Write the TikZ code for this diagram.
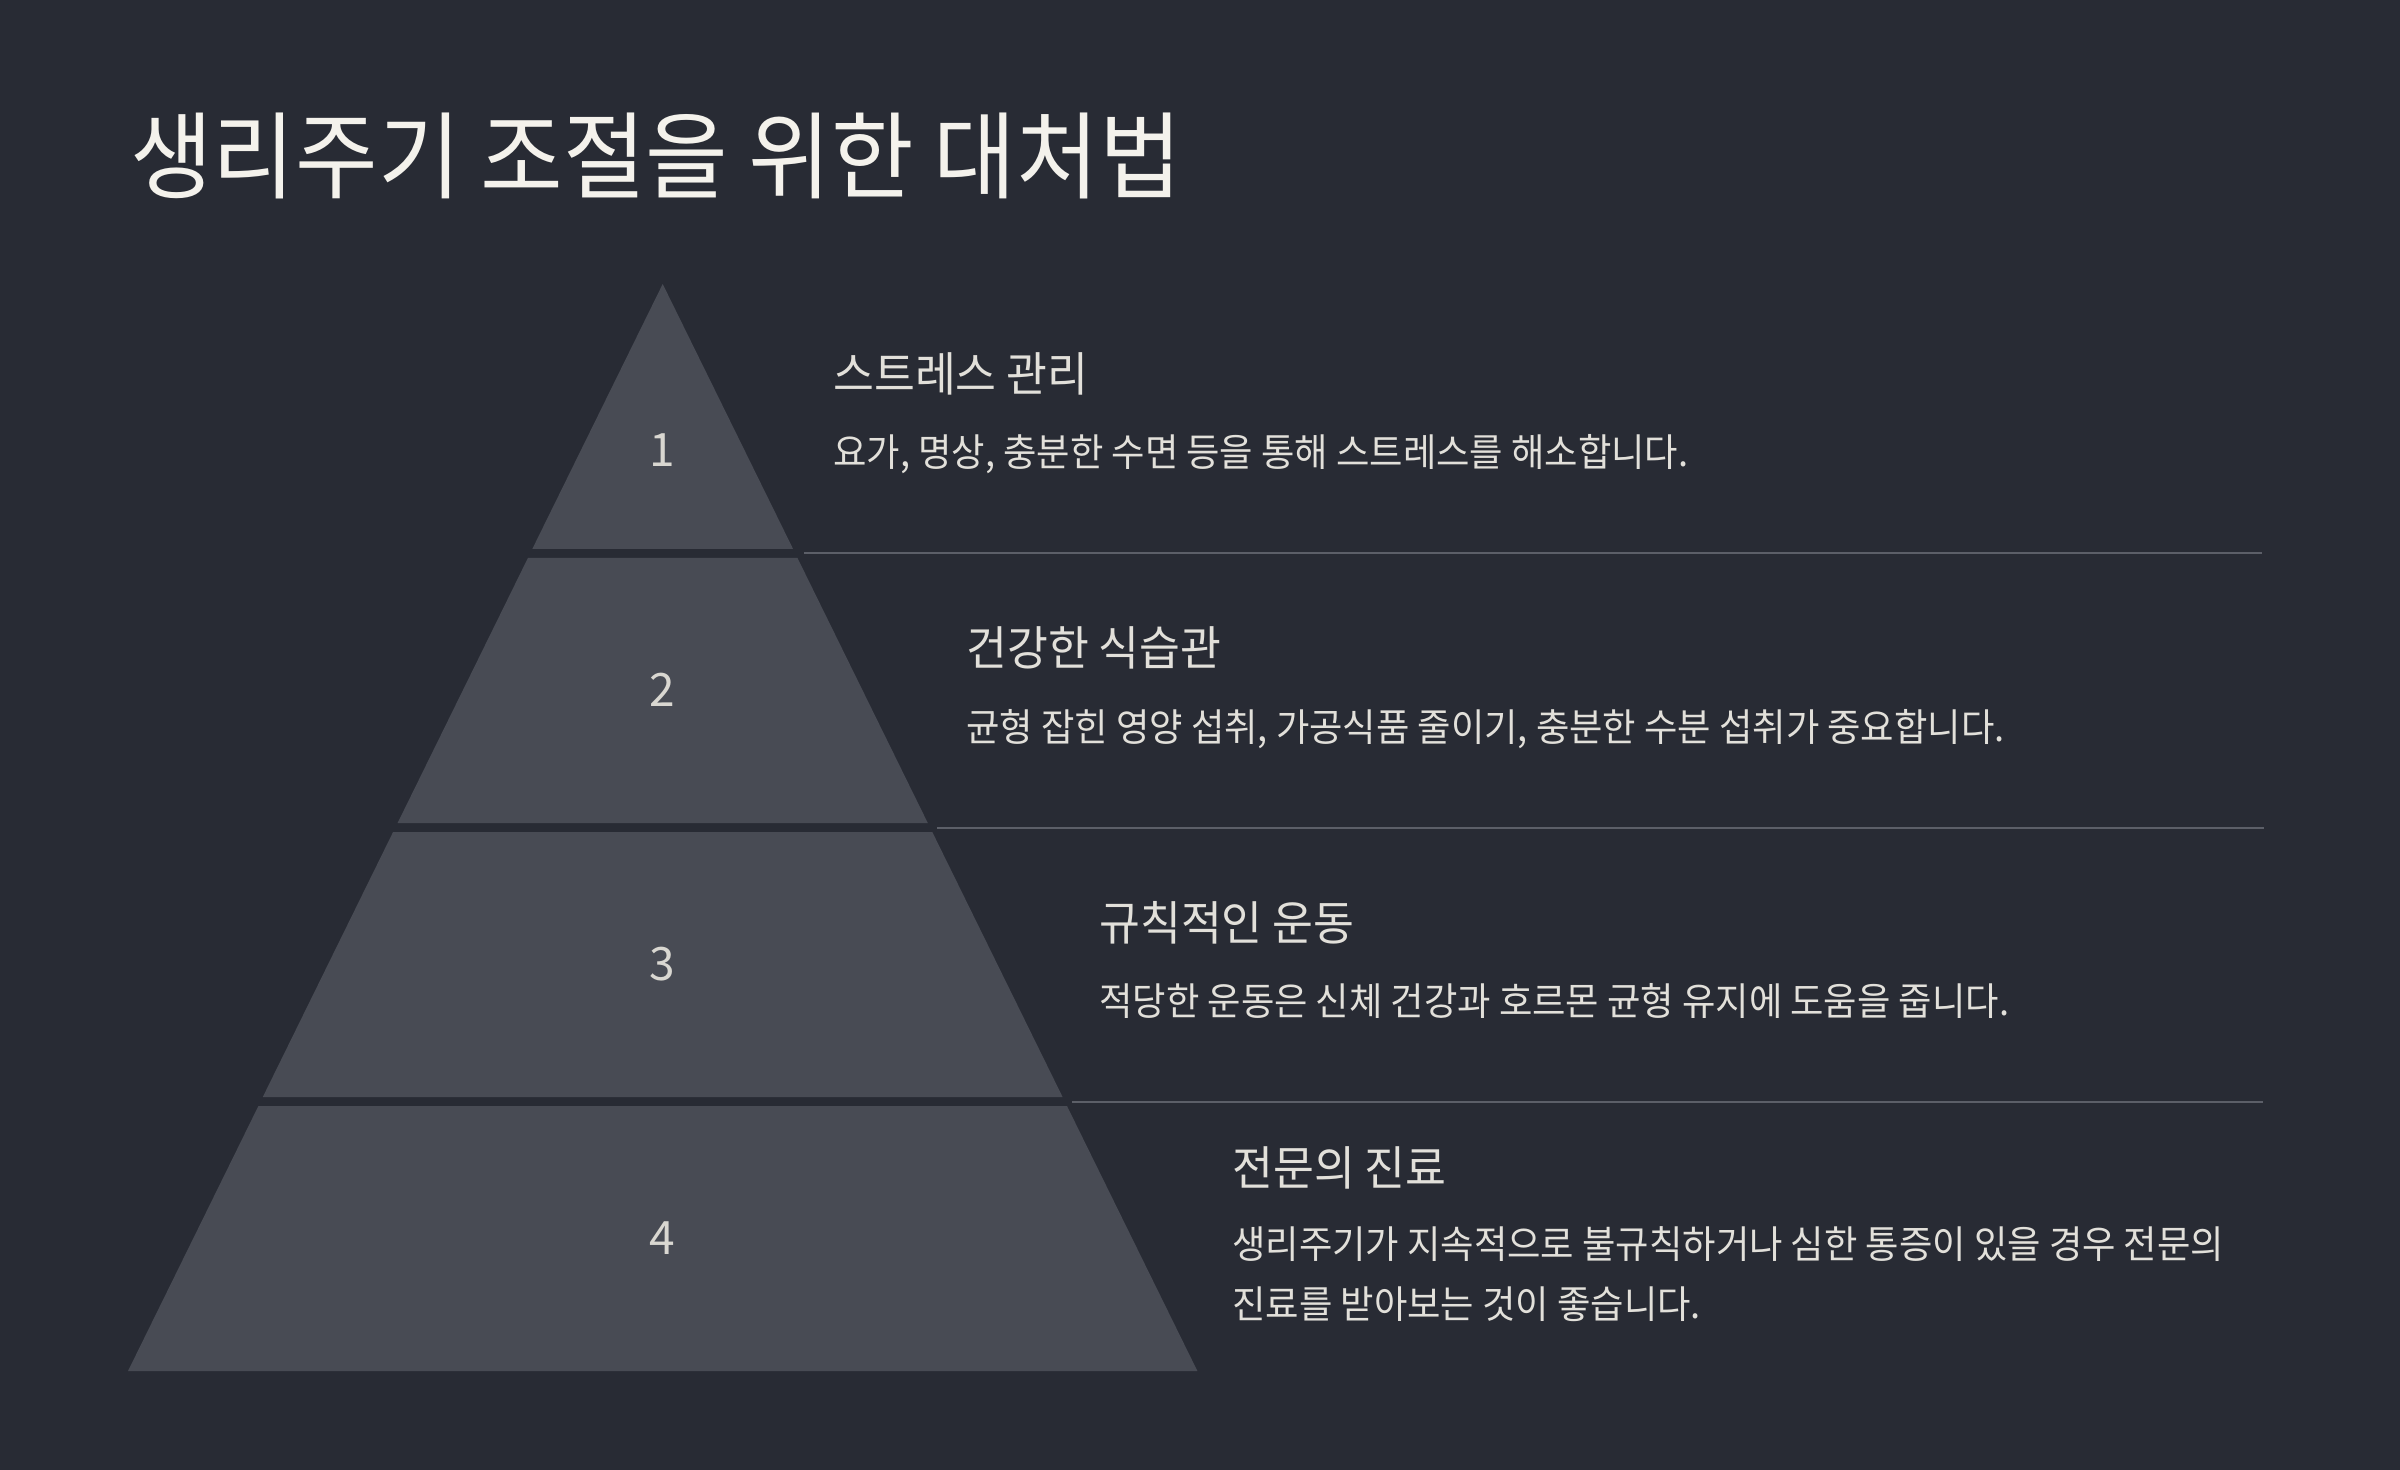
\documentclass[tikz,border=0pt]{standalone}
\usepackage{fontspec}
\setmainfont{Noto Sans CJK KR}[FakeStretch=0.945]
\newfontfamily\numfont{Noto Sans CJK KR}
\definecolor{bgc}{HTML}{282B34}
\definecolor{layerc}{HTML}{484B54}
\definecolor{titlec}{HTML}{F4F2EC}
\definecolor{textc}{HTML}{E2E0DA}
\definecolor{numc}{HTML}{D9D7D1}
\definecolor{sepc}{HTML}{5C5F68}
\tikzset{
  layer/.style={fill=layerc, draw=none},
  numlabel/.style={text=numc, font=\numfont\fontsize{23}{27}\selectfont, inner sep=0pt, anchor=center},
  heading/.style={text=textc, font=\fontsize{23.5}{28}\selectfont, inner sep=0pt, anchor=base west},
  desc/.style={text=textc, font=\fontsize{19.2}{30}\selectfont, inner sep=0pt, anchor=base west},
  sepline/.style={draw=sepc, line width=1pt},
}
\begin{document}
\begin{tikzpicture}[x=0.5pt,y=-0.5pt]
\fill[bgc] (0,0) rectangle (2400,1470);
\useasboundingbox (0,0) rectangle (2400,1470);
% title
\node[text=titlec, font=\fontsize{47.5}{56}\selectfont, inner sep=0pt, anchor=base west] (title) at (130,192) {생리주기 조절을 위한 대처법};
% pyramid layers
\fill[layer] (662.7,284) -- (793.1,549) -- (532.3,549) -- cycle;
\fill[layer] (527.9,558) -- (797.5,558) -- (927.8,823) -- (397.6,823) -- cycle;
\fill[layer] (393.1,832) -- (932.3,832) -- (1062.6,1097) -- (262.8,1097) -- cycle;
\fill[layer] (258.4,1106) -- (1067,1106) -- (1197.4,1371) -- (128,1371) -- cycle;
\node[numlabel] (n1) at (662.7,450) {1};
\node[numlabel] (n2) at (662.7,690) {2};
\node[numlabel] (n3) at (662.7,964) {3};
\node[numlabel] (n4) at (662.7,1238) {4};
% separators
\coordinate (s1a) at (804,553.5); \coordinate (s1b) at (2262,553.5);
\coordinate (s2a) at (937,827.5); \coordinate (s2b) at (2264,827.5);
\coordinate (s3a) at (1072,1101.5); \coordinate (s3b) at (2263,1101.5);
\draw[sepline] (s1a) -- (s1b);
\draw[sepline] (s2a) -- (s2b);
\draw[sepline] (s3a) -- (s3b);
% texts
\node[heading] (h1) at (833,392) {스트레스 관리};
\node[desc] (d1) at (833,467) {요가, 명상, 충분한 수면 등을 통해 스트레스를 해소합니다.};
\node[heading] (h2) at (966,666) {건강한 식습관};
\node[desc] (d2) at (966,741) {균형 잡힌 영양 섭취, 가공식품 줄이기, 충분한 수분 섭취가 중요합니다.};
\node[heading] (h3) at (1099,940) {규칙적인 운동};
\node[desc] (d3) at (1099,1015) {적당한 운동은 신체 건강과 호르몬 균형 유지에 도움을 줍니다.};
\node[heading] (h4) at (1232,1185) {전문의 진료};
\node[desc] (d4a) at (1232,1258) {생리주기가 지속적으로 불규칙하거나 심한 통증이 있을 경우 전문의};
\node[desc] (d4b) at (1232,1318) {진료를 받아보는 것이 좋습니다.};
\end{tikzpicture}
\end{document}
